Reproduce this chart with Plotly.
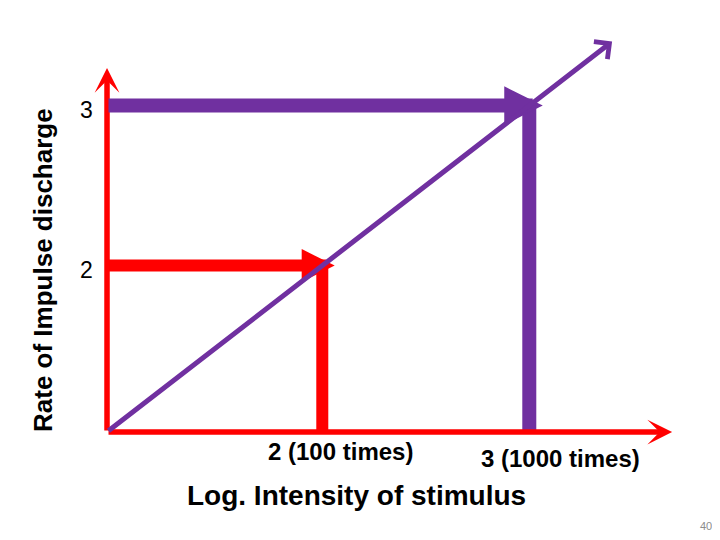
import plotly.graph_objects as go

# --- datos del esquema (unidades: log de intensidad / tasa de descarga) ---
origen = 0.96
fin_eje_x = 3.69
fin_eje_y = 3.235
fin_recta = 3.40

niveles = [2, 3]                       # log. intensidad
tasas = [2, 3]                         # tasa de impulsos
etiquetas_x = ["2 (100 times)", "3 (1000 times)"]
etiquetas_y = ["2", "3"]
punta_extra = [0.06, 0.065]            # cuanto sobresale la punta de la flecha

ROJO = "#FF0000"
MORADO = "#7030A0"
colores = [ROJO, MORADO]
anchos_barra = [12, 14]
FUENTE = "Arial, Liberation Sans, sans-serif"

# la pagina tiene 8 px de margen: la figura ocupa 712x532 desde (8, 8)
W, H, M = 712, 532, 8

def px_x(p):
    return (p - M) / W

def px_y(p):
    return 1 - (p - M) / H

fig = go.Figure()

# barras verticales gruesas (nivel -> tasa)
for nv, ts, col, an in zip(niveles, tasas, colores, anchos_barra):
    fig.add_trace(go.Scatter(
        x=[nv, nv], y=[origen, ts], mode="lines",
        line=dict(color=col, width=an), hoverinfo="skip", showlegend=False
    ))

anots = []

def flecha(x0, y0, x1, y1, color, ancho, cabeza, tam):
    anots.append(dict(
        x=x1, y=y1, ax=x0, ay=y0, xref="x", yref="y", axref="x", ayref="y",
        text="", showarrow=True, arrowhead=cabeza, arrowsize=tam,
        arrowwidth=ancho, arrowcolor=color, standoff=0
    ))

def texto(txt, x, y, size, bold=False, color="black", angle=0, yref="paper", yshift=0):
    anots.append(dict(
        x=x, y=y, xref="paper", yref=yref, xanchor="center", yanchor="middle",
        text=txt, showarrow=False, textangle=angle, yshift=yshift,
        font=dict(family=FUENTE, size=size, color=color,
                  weight="bold" if bold else "normal")
    ))

# ejes rojos
flecha(origen, origen, fin_eje_x, origen, ROJO, 5.5, 3, 0.75)
flecha(origen, origen, origen, fin_eje_y, ROJO, 5.5, 3, 0.75)
# flechas horizontales (tasa)
for nv, ts, col, ex, an in zip(niveles, tasas, colores, punta_extra, anchos_barra):
    flecha(origen, ts, nv + ex, ts, col, an, 2, 0.55)
# recta diagonal
flecha(origen, origen, fin_recta, fin_recta, MORADO, 5, 4, 0.85)

# textos
for txt, px, py in zip(etiquetas_x, [340, 560], [451, 458]):
    texto(txt, px_x(px), px_y(py), 24, bold=True)
for txt, ts in zip(etiquetas_y, tasas):
    texto(txt, px_x(86), ts, 23, yref="y", yshift=-4)

texto("Log. Intensity of stimulus", px_x(356), px_y(495), 28, bold=True)
texto("Rate of Impulse discharge", px_x(43), px_y(270), 26, bold=True, angle=-90)
texto("40", px_x(706), px_y(526), 11, color="#8C8C8C")

fig.update_layout(
    width=W, height=H,
    margin=dict(l=0, r=0, t=0, b=0),
    paper_bgcolor="white", plot_bgcolor="white",
    annotations=anots, showlegend=False,
    xaxis=dict(range=[0.4817, 3.9213], visible=False, fixedrange=True),
    yaxis=dict(range=[0.285, 3.61], visible=False, fixedrange=True),
)

fig.write_html("out.html")
